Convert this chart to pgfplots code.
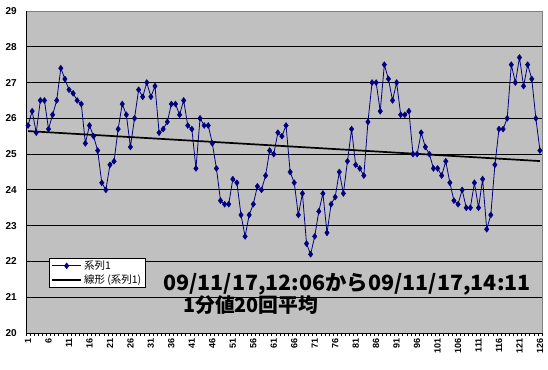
\documentclass[border=0pt]{standalone}
\usepackage{pgfplots}
\pgfplotsset{compat=1.18}
\usepackage{pgfplotstable}
\usepackage{fontspec}
\setmainfont{Liberation Sans}
\newfontfamily\cjk{Noto Sans CJK JP}
\definecolor{plotgray}{HTML}{C0C0C0}
\definecolor{bordergray}{HTML}{808080}
\definecolor{navy}{HTML}{000080}
\pgfplotstableread{
x y
1 25.8
2 26.2
3 25.6
4 26.5
5 26.5
6 25.7
7 26.1
8 26.5
9 27.4
10 27.1
11 26.8
12 26.7
13 26.5
14 26.4
15 25.3
16 25.8
17 25.5
18 25.1
19 24.2
20 24.0
21 24.7
22 24.8
23 25.7
24 26.4
25 26.1
26 25.2
27 26.0
28 26.8
29 26.6
30 27.0
31 26.6
32 26.9
33 25.6
34 25.7
35 25.9
36 26.4
37 26.4
38 26.1
39 26.5
40 25.8
41 25.7
42 24.6
43 26.0
44 25.8
45 25.8
46 25.3
47 24.6
48 23.7
49 23.6
50 23.6
51 24.3
52 24.2
53 23.3
54 22.7
55 23.3
56 23.6
57 24.1
58 24.0
59 24.4
60 25.1
61 25.0
62 25.6
63 25.5
64 25.8
65 24.5
66 24.2
67 23.3
68 23.9
69 22.5
70 22.2
71 22.7
72 23.4
73 23.9
74 22.8
75 23.6
76 23.8
77 24.5
78 23.9
79 24.8
80 25.7
81 24.7
82 24.6
83 24.4
84 25.9
85 27.0
86 27.0
87 26.2
88 27.5
89 27.1
90 26.5
91 27.0
92 26.1
93 26.1
94 26.2
95 25.0
96 25.0
97 25.6
98 25.2
99 25.0
100 24.6
101 24.6
102 24.4
103 24.8
104 24.2
105 23.7
106 23.6
107 24.0
108 23.5
109 23.5
110 24.2
111 23.5
112 24.3
113 22.9
114 23.3
115 24.7
116 25.7
117 25.7
118 26.0
119 27.5
120 27.0
121 27.7
122 26.9
123 27.5
124 27.1
125 26.0
126 25.1
}\datatable
\begin{document}
\begin{tikzpicture}
\useasboundingbox (-26pt,-36pt) rectangle (522pt,333pt);
\begin{axis}[
  scale only axis, width=516pt, height=322pt,
  at={(0pt,0pt)}, anchor=south west,
  xmin=0.5, xmax=126.5, ymin=20, ymax=29,
  clip=false,
  axis lines*=left,
  axis line style={black, line width=0.8pt},
  axis background/.style={fill=plotgray, draw=bordergray, line width=0.8pt},
  /pgf/number format/assume math mode=true,
  xtick={1,6,...,126},
  minor xtick={0.5,1.5,...,126.5},
  major tick length=0pt,
  minor tick length=3pt,
  tick align=outside,
  minor tick style={black, line width=0.6pt},
  xticklabel style={rotate=90, anchor=east, inner xsep=5pt, inner ysep=0pt, font=\fontsize{9}{10}\selectfont\bfseries},
  ytick={20,...,28},
  extra y ticks={29},
  extra y tick style={grid=none},
  yticklabel style={anchor=east, inner xsep=0pt, inner ysep=0pt, xshift=-9pt, font=\fontsize{10}{12}\selectfont\bfseries},
  ymajorgrids,
  grid style={black, line width=0.8pt},
  legend style={at={(0.0446,0.233)}, anchor=north west, draw=black, fill=white,
    line width=0.6pt, inner xsep=2pt, inner ysep=0.5pt, row sep=0pt,
    font=\cjk\fontsize{10.5}{12.5}\selectfont, cells={anchor=west}},
  legend image code/.code={\draw[mark repeat=2, mark phase=2, #1] plot coordinates {(0pt,0pt) (14.5pt,0pt) (29pt,0pt)};},
]
\addplot[color=navy, line width=0.8pt, mark=diamond*, mark size=3pt, mark options={fill=navy, draw=navy, line width=0.4pt}] table[x=x, y=y] {\datatable};
\addlegendentry{系列1}
\addplot[color=black, line width=1.7pt, no marks] table[x=x, y={create col/linear regression={y=y}}] {\datatable};
\addlegendentry{線形 (系列1)}
\end{axis}
\node[anchor=base west, inner sep=0pt] at (137pt,42pt) {\scalebox{1.022}[1]{\cjk\bfseries\fontsize{21}{24}\selectfont 09/11/17,12:06から09/11/17,14:11}};
\node[anchor=base west, inner sep=0pt] at (157pt,21pt) {\cjk\bfseries\fontsize{19.8}{24}\selectfont 1分値20回平均};
\end{tikzpicture}
\end{document}
